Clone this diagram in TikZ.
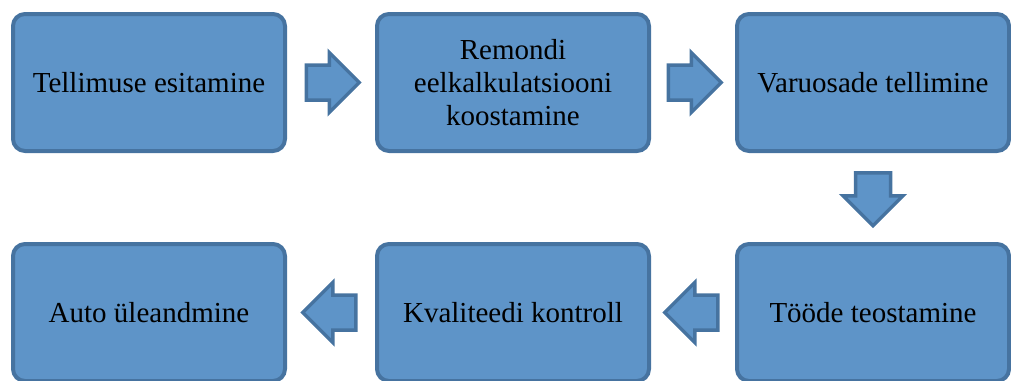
\documentclass[tikz,border=0pt]{standalone}
\usepackage{fontspec}
\setmainfont{Liberation Serif}
\usetikzlibrary{shapes.arrows,calc}
\definecolor{boxfill}{RGB}{94,148,200}
\definecolor{boxline}{RGB}{70,115,160}
\tikzset{
	stage/.style={draw=boxline, fill=boxfill, line width=4pt, rounded corners=12pt,
		minimum width=272pt, minimum height=137pt, align=center,
		font=\fontsize{29}{33}\selectfont},
	flowarrow/.style={single arrow, draw=boxline, fill=boxfill, line width=3.5pt,
		inner sep=15.75pt, minimum height=53pt, anchor=tail,
		single arrow head extend=12.5pt}
}
\begin{document}
\begin{tikzpicture}[x=1pt,y=-1pt]
	\useasboundingbox (0,0) rectangle (1011,380);
	% upper row
	\node[stage] (tellimus) at (149,82.5) {Tellimuse esitamine};
	\node[stage] (eelkalk) at (513,82.5) {Remondi\\eelkalkulatsiooni\\koostamine};
	\node[stage] (varuosad) at (873,82.5) {Varuosade tellimine};
	% lower row
	\node[stage] (tood) at (873,312.5) {Tööde teostamine};
	\node[stage] (kontroll) at (513,312.5) {Kvaliteedi kontroll};
	\node[stage] (yleandmine) at (149,312.5) {Auto üleandmine};
	% arrows between the stages, tail half a length before the gap's middle
	\node[flowarrow] (n1) at ($($(tellimus.east)!0.5!(eelkalk.west)$)!26.5pt!(tellimus.east)$) {};
	\node[flowarrow] (n2) at ($($(eelkalk.east)!0.5!(varuosad.west)$)!26.5pt!(eelkalk.east)$) {};
	\node[flowarrow, shape border rotate=270] (n3) at ($($(varuosad.south)!0.5!(tood.north)$)!26.5pt!(varuosad.south)$) {};
	\node[flowarrow, shape border rotate=180] (n4) at ($($(tood.west)!0.5!(kontroll.east)$)!26.5pt!(tood.west)$) {};
	\node[flowarrow, shape border rotate=180] (n5) at ($($(kontroll.west)!0.5!(yleandmine.east)$)!26.5pt!(kontroll.west)$) {};
\end{tikzpicture}
\end{document}
